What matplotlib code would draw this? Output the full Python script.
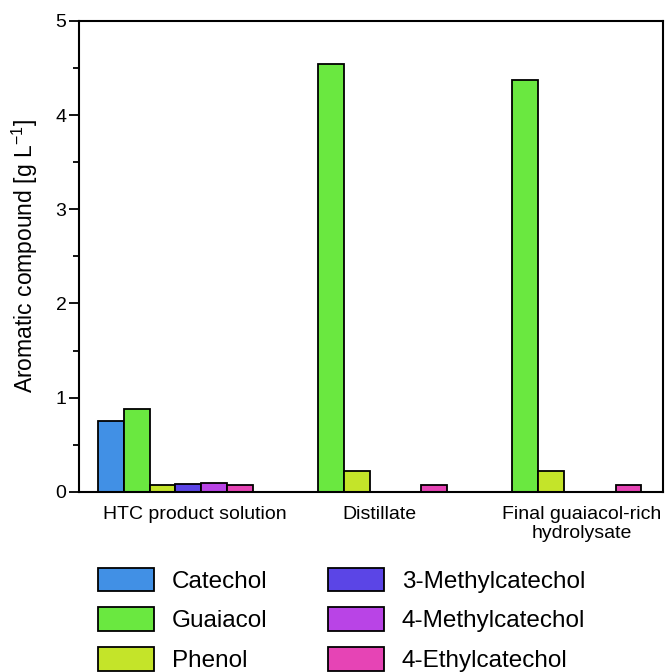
import matplotlib.pyplot as plt
import numpy as np

plt.rcParams['font.family'] = ['Liberation Sans', 'DejaVu Sans']

samples = ['HTC product solution', 'Distillate', 'Final guaiacol-rich\nhydrolysate']
compounds = ['Catechol', 'Guaiacol', 'Phenol',
             '3-Methylcatechol', '4-Methylcatechol', '4-Ethylcatechol']
colors = ['#4190E5', '#6AE840', '#C4E429', '#5B45E6', '#B944E6', '#E644B5']

# g/L per sample, one list per compound
catechol = [0.75, 0.0, 0.0]
guaiacol = [0.88, 4.54, 4.37]
phenol = [0.075, 0.22, 0.22]
methylcatechol3 = [0.085, 0.0, 0.0]
methylcatechol4 = [0.09, 0.0, 0.0]
ethylcatechol4 = [0.075, 0.07, 0.07]
values = [catechol, guaiacol, phenol, methylcatechol3, methylcatechol4, ethylcatechol4]

fig = plt.figure(figsize=(6.69, 6.72), dpi=100)
ax = fig.add_axes([0.118, 0.268, 0.873, 0.701])

x = np.arange(len(samples))
w = 0.133
for i, (name, vals, c) in enumerate(zip(compounds, values, colors)):
    ax.bar(x + (i - 2.5) * w, vals, w, color=c, edgecolor='black',
           linewidth=1.3, label=name)

ax.set_xlim(-0.497, 2.51)
ax.set_ylim(0, 5)
ax.set_yticks([0, 1, 2, 3, 4, 5])
ax.set_yticks(np.arange(0.5, 5, 1), minor=True)
ax.set_xticks(x + np.array([0.1, 0.05, 0.09]))
ax.set_xticklabels(samples)
ax.tick_params(axis='x', length=0, pad=10, labelsize=14)
ax.tick_params(axis='y', which='major', length=7, width=1.3, labelsize=14, pad=2)
ax.tick_params(axis='y', which='minor', length=4, width=1.3)
for s in ax.spines.values():
    s.set_linewidth(1.5)
ax.set_ylabel('Aromatic compound [g L$^{\\mathregular{-1}}$]', fontsize=16.5, labelpad=11)

fig.legend(loc='upper left', bbox_to_anchor=(0.1465, 0.155), ncol=2,
           frameon=False, fontsize=17.5, handlelength=2.3, handleheight=1.11,
           handletextpad=0.75, columnspacing=2.47, labelspacing=0.6,
           borderaxespad=0, borderpad=0)

fig.savefig('out.png', dpi=100)
